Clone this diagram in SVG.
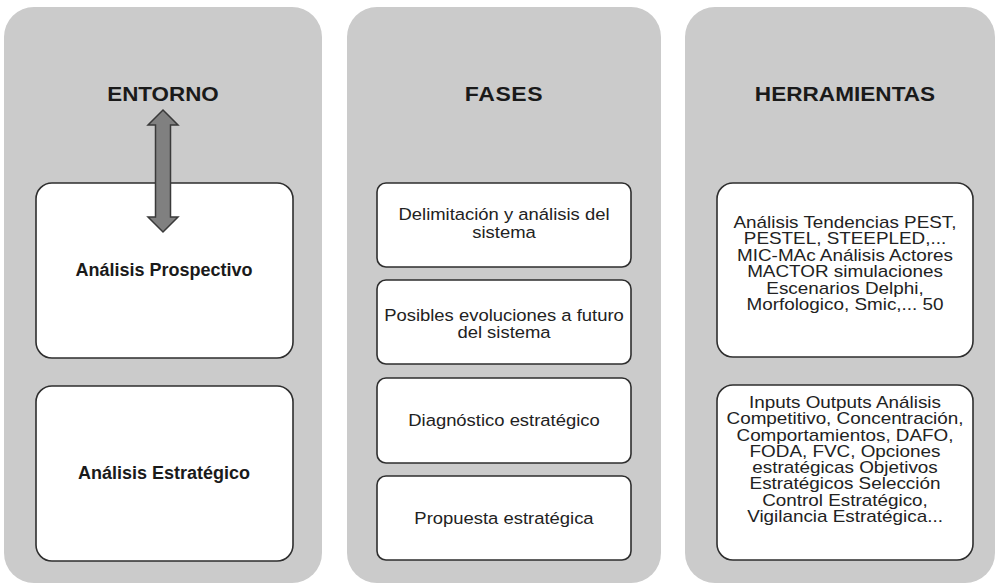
<svg xmlns="http://www.w3.org/2000/svg" width="1000" height="585" viewBox="0 0 1000 585">
<style>
.panel{fill:#cbcbcb;stroke:none}
.box{fill:#ffffff;stroke:#2e2e2e;stroke-width:1.6}
.head{font-family:"Liberation Sans",Arial,sans-serif;font-weight:bold;font-size:20px;fill:#1a1a1a;text-anchor:middle}
.bold{font-family:"Liberation Sans",Arial,sans-serif;font-weight:bold;font-size:18px;fill:#1a1a1a;text-anchor:middle}
.t{font-family:"Liberation Sans",Arial,sans-serif;font-size:17px;fill:#222;text-anchor:middle}
.s{font-family:"Liberation Sans",Arial,sans-serif;font-size:16px;fill:#222;text-anchor:middle}
.arrow{fill:#808080;stroke:#3a3a3a;stroke-width:1.5;stroke-linejoin:miter}
</style>
<rect width="1000" height="585" fill="#ffffff"/>
<g id="panel-entorno">
<rect class="panel" x="4" y="7" width="318" height="576" rx="30"/>
<text class="head" transform="translate(163,101) scale(1.12,1)">ENTORNO</text>
</g>
<g id="panel-fases">
<rect class="panel" x="347" y="7" width="314" height="576" rx="30"/>
<text class="head" transform="translate(504,101) scale(1.15,1)" letter-spacing="0.5">FASES</text>
</g>
<g id="panel-herramientas">
<rect class="panel" x="685" y="7" width="310" height="576" rx="30"/>
<text class="head" transform="translate(845,101) scale(1.13,1)">HERRAMIENTAS</text>
</g>
<g id="analisis-prospectivo">
<rect class="box" x="36" y="183" width="257" height="175" rx="16"/>
<text class="bold" x="164" y="276">Análisis Prospectivo</text>
</g>
<g id="analisis-estrategico">
<rect class="box" x="36" y="386" width="257" height="175" rx="16"/>
<text class="bold" x="164" y="479">Análisis Estratégico</text>
</g>
<g id="fase-1">
<rect class="box" x="377" y="183" width="254" height="84" rx="9"/>
<text class="t" transform="translate(504,220) scale(1.085,1)"><tspan x="0" y="0">Delimitación y análisis del</tspan><tspan x="0" y="18">sistema</tspan></text>
</g>
<g id="fase-2">
<rect class="box" x="377" y="280" width="254" height="84" rx="9"/>
<text class="t" transform="translate(504,321) scale(1.085,1)"><tspan x="0" y="0">Posibles evoluciones a futuro</tspan><tspan x="0" y="17.5">del sistema</tspan></text>
</g>
<g id="fase-3">
<rect class="box" x="377" y="378" width="254" height="85" rx="9"/>
<text class="t" transform="translate(504,426) scale(1.085,1)">Diagnóstico estratégico</text>
</g>
<g id="fase-4">
<rect class="box" x="377" y="476" width="254" height="84" rx="9"/>
<text class="t" transform="translate(504,524) scale(1.085,1)">Propuesta estratégica</text>
</g>
<g id="herramientas-1">
<rect class="box" x="717" y="183" width="256" height="174" rx="16"/>
<text class="s" transform="translate(845,228) scale(1.18,1)"><tspan x="0" y="0">Análisis Tendencias PEST,</tspan><tspan x="0" y="16.4">PESTEL, STEEPLED,...</tspan><tspan x="0" y="32.8">MIC-MAc Análisis Actores</tspan><tspan x="0" y="49.2">MACTOR simulaciones</tspan><tspan x="0" y="65.6">Escenarios Delphi,</tspan><tspan x="0" y="82">Morfologico, Smic,... 50</tspan></text>
</g>
<g id="herramientas-2">
<rect class="box" x="717" y="385" width="256" height="175" rx="16"/>
<text class="s" transform="translate(845,408) scale(1.18,1)"><tspan x="0" y="0">Inputs Outputs Análisis</tspan><tspan x="0" y="16.3">Competitivo, Concentración,</tspan><tspan x="0" y="32.6">Comportamientos, DAFO,</tspan><tspan x="0" y="48.9">FODA, FVC, Opciones</tspan><tspan x="0" y="65.2">estratégicas Objetivos</tspan><tspan x="0" y="81.5">Estratégicos Selección</tspan><tspan x="0" y="97.8">Control Estratégico,</tspan><tspan x="0" y="114.1">Vigilancia Estratégica...</tspan></text>
</g>
<g id="connectors">
<polygon class="arrow" points="163,110 178,125 170.5,125 170.5,217 178,217 163,232 148,217 155.5,217 155.5,125 148,125"/>
</g>
</svg>
